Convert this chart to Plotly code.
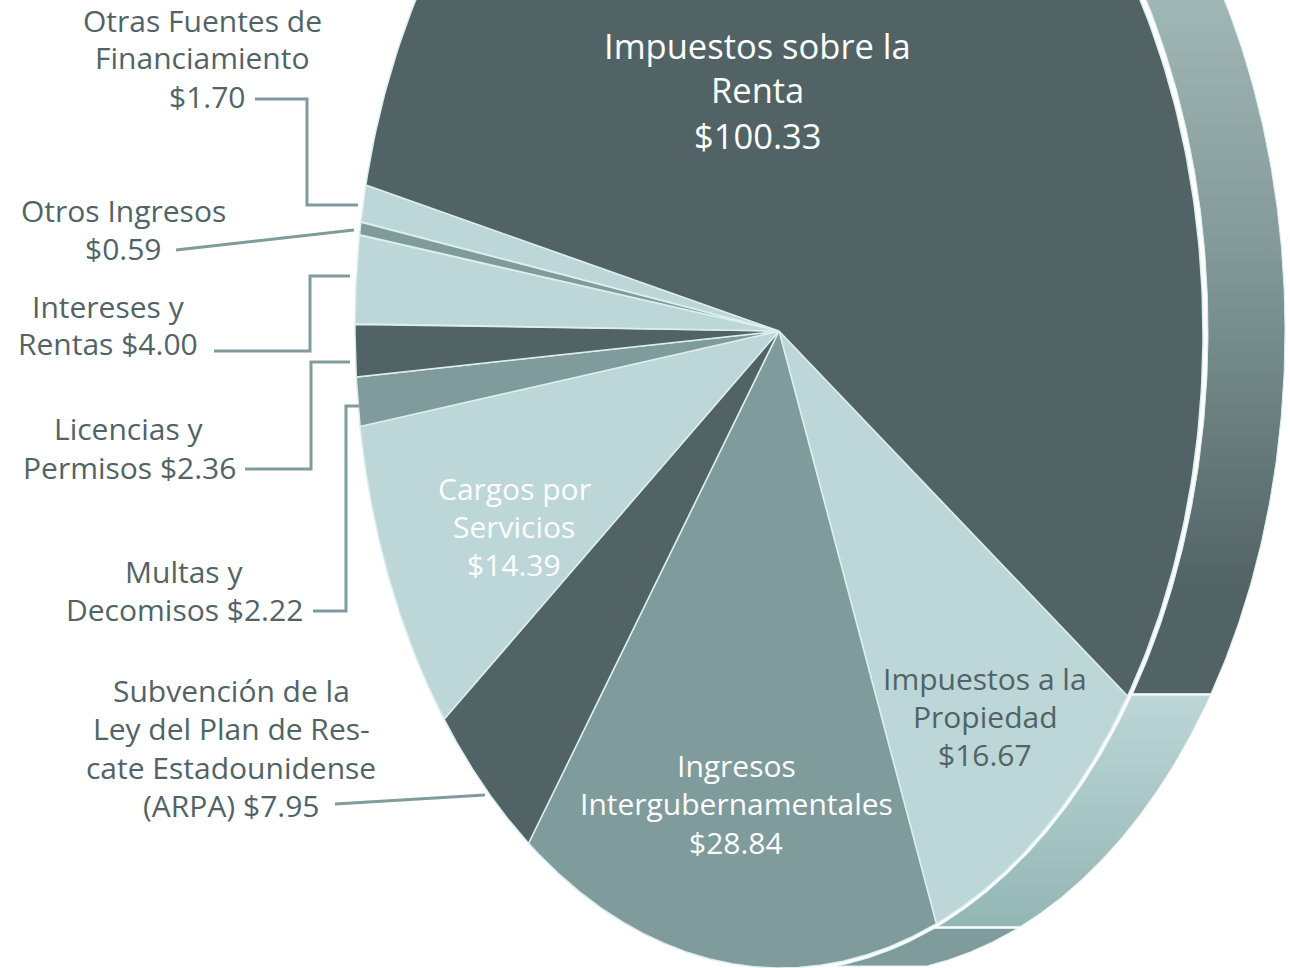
import numpy as np
import plotly.graph_objects as go

W, H = 1290, 968

categories = ["Impuestos a la Propiedad", "Ingresos Intergubernamentales",
              "Subvención ARPA", "Cargos por Servicios", "Multas y Decomisos",
              "Licencias y Permisos", "Intereses y Rentas", "Otros Ingresos",
              "Otras Fuentes de Financiamiento", "Impuestos sobre la Renta"]
values = [16.67, 28.84, 7.95, 14.39, 2.22, 2.36, 4.00, 0.59, 1.70, 100.33]

DARK, LIGHT, MID = "#526366", "#bdd6d7", "#7f9b9b"
colors = [LIGHT, MID, DARK, LIGHT, MID, DARK, LIGHT, MID, LIGHT, DARK]
EDGE = "#dcefee"
TEXT = "#526366"
FONT = "Open Sans"
SMALL, LARGE = 30, 34.5

# Geometry of the tilted pie (pixels)
CX, CY, RX, RY = 779, 331, 424, 637
START_DEG = 34.7
SHEAR = 0.007


def yv(py):
    return (CY - py) / RY


def px_x(px):
    return px / W


def px_y(py):
    return 1 - py / H


total = sum(values)
edges = START_DEG + np.concatenate([[0], np.cumsum(values)]) / total * 360

fig = go.Figure()

# Extruded side bands, between an inner and an outer ellipse
IN_RX, IN_RY = (RX + 5) / RX, (RY + 4) / RY
OUT_CX, OUT_RX, OUT_RY = (860 - CX) / RX, 425 / RX, 643 / RY


def band(y_top, y_bot, stops, start, stop):
    ys = np.linspace(y_top, y_bot, 160)
    inner = IN_RX * np.sqrt(np.clip(1 - (ys / IN_RY) ** 2, 0, 1))
    outer = OUT_CX + OUT_RX * np.sqrt(np.clip(1 - (ys / OUT_RY) ** 2, 0, 1))
    xs = np.concatenate([inner, outer[::-1], inner[:1]])
    yy = np.concatenate([ys, ys[::-1], ys[:1]])
    fig.add_trace(go.Scatter(
        x=xs, y=yy, mode="lines", fill="toself",
        line=dict(color=EDGE, width=1),
        fillgradient=dict(type="vertical", colorscale=stops, start=start, stop=stop),
        hoverinfo="skip", showlegend=False))


y0 = -np.sin(np.radians(edges[0]))
y1 = -np.sin(np.radians(edges[1])) - 4 / RY
band(yv(-20), y0,
     [[0, "#a0b8b6"], [0.4, "#869c9c"], [0.7, "#6c8080"], [1, "#526366"]],
     yv(-10), yv(590))
band(y0 - 0.003, y1,
     [[0, "#bdd6d7"], [1, "#93b6b5"]], y0, y1)
band(y1 - 0.003, yv(966),
     [[0, "#7f9b9b"], [1, "#7f9b9b"]], y1, yv(966))

# Pie slices drawn from the values
for i, (name, c) in enumerate(zip(categories, colors)):
    t = np.radians(np.linspace(edges[i], edges[i + 1], 240))
    xs = np.concatenate([[0], np.cos(t), [0]])
    ys = np.concatenate([[0], -np.sin(t) - SHEAR * np.cos(t) * RX / RY, [0]])
    fig.add_trace(go.Scatter(x=xs, y=ys, mode="lines", fill="toself", fillcolor=c,
                             line=dict(color=EDGE, width=1.5), name=name,
                             hoverinfo="skip", showlegend=False))

# Leader lines
leaders = [
    [(255, 99), (307, 99), (307, 205), (358, 205)],
    [(176, 250), (354, 230)],
    [(214, 351), (310, 351), (310, 276), (350, 276)],
    [(245, 469), (311, 469), (311, 362), (350, 362)],
    [(313, 611), (346, 611), (346, 406), (359, 406)],
    [(335, 804), (485, 795)],
]
for pts in leaders:
    path = "M " + " L ".join(f"{px_x(a):.5f} {px_y(b):.5f}" for a, b in pts)
    fig.add_shape(type="path", path=path, xref="paper", yref="paper",
                  line=dict(color=MID, width=3), fillcolor="rgba(0,0,0,0)")

# Label lines: text, centre x, centre y, colour, size
label_lines = [
    ("Impuestos sobre la", 757, 45, "#ffffff", LARGE),
    ("Renta", 757, 90, "#ffffff", LARGE),
    ("$100.33", 757, 135, "#ffffff", LARGE),
    ("Impuestos a la", 985, 678, TEXT, SMALL),
    ("Propiedad", 985, 716, TEXT, SMALL),
    ("$16.67", 985, 754, TEXT, SMALL),
    ("Ingresos", 736, 765, "#ffffff", SMALL),
    ("Intergubernamentales", 736, 803, "#ffffff", SMALL),
    ("$28.84", 736, 842, "#ffffff", SMALL),
    ("Cargos por", 514, 488, "#ffffff", SMALL),
    ("Servicios", 514, 526, "#ffffff", SMALL),
    ("$14.39", 514, 564, "#ffffff", SMALL),
    ("Otras Fuentes de", 202, 20, TEXT, SMALL),
    ("Financiamiento", 202, 58, TEXT, SMALL),
    ("$1.70", 207, 96, TEXT, SMALL),
    ("Otros Ingresos", 123, 210, TEXT, SMALL),
    ("$0.59", 123, 248, TEXT, SMALL),
    ("Intereses y", 108, 306, TEXT, SMALL),
    ("Rentas $4.00", 108, 344, TEXT, SMALL),
    ("Licencias y", 129, 429, TEXT, SMALL),
    ("Permisos $2.36", 129, 467, TEXT, SMALL),
    ("Multas y", 184, 571, TEXT, SMALL),
    ("Decomisos $2.22", 184, 609, TEXT, SMALL),
    ("Subvención de la", 231, 690, TEXT, SMALL),
    ("Ley del Plan de Res-", 231, 728, TEXT, SMALL),
    ("cate Estadounidense", 231, 767, TEXT, SMALL),
    ("(ARPA) $7.95", 231, 805, TEXT, SMALL),
]
for txt, x, y, col, size in label_lines:
    fig.add_annotation(text=txt, x=px_x(x), y=px_y(y), xref="paper", yref="paper",
                       xanchor="center", yanchor="middle", showarrow=False,
                       font=dict(family=FONT, size=size, color=col))

fig.update_layout(
    width=W, height=H, margin=dict(l=0, r=0, t=0, b=0),
    paper_bgcolor="white", plot_bgcolor="white", showlegend=False,
    xaxis=dict(range=[-CX / RX, (W - CX) / RX], visible=False, fixedrange=True),
    yaxis=dict(range=[yv(H), yv(0)], visible=False, fixedrange=True),
)
fig.write_html("out.html", config={"displayModeBar": False},
               post_script="document.body.style.margin='0';document.body.style.overflow='hidden';")
